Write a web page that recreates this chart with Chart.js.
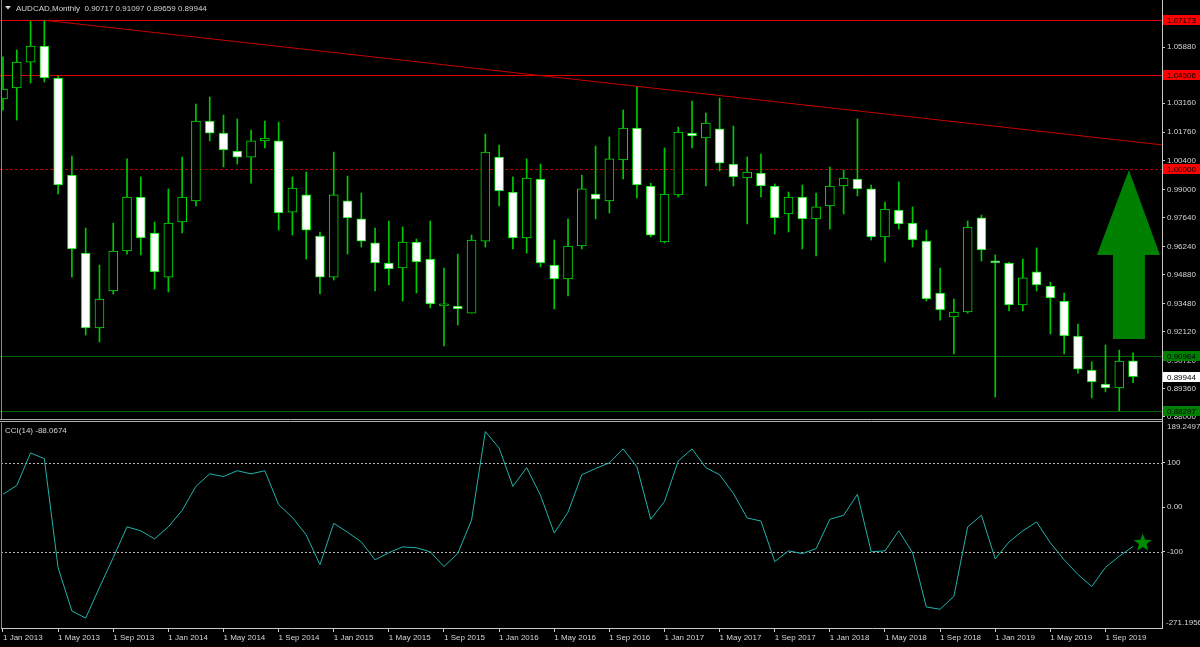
<!DOCTYPE html>
<html>
<head>
<meta charset="utf-8">
<script src="https://cdn.jsdelivr.net/npm/chart.js@4.4.1/dist/chart.umd.min.js"></script>
<style>
  html, body { margin: 0; padding: 0; background: #000; }
  #wrap { position: relative; width: 1200px; height: 647px; overflow: hidden; background: #000; }
  #wrap canvas { position: absolute; left: 0; }
  #priceChart { top: 0; }
  #cciChart { top: 412px; }
</style>
</head>
<body>
<div id="wrap">
  <canvas id="priceChart" width="1200" height="421"></canvas>
  <canvas id="cciChart" width="1200" height="235"></canvas>
</div>
<script>
// AUDCAD monthly, Jan 2013 .. Nov 2019 (index 0 = Jan 2013)
const open = [1.0337, 1.0390, 1.0515, 1.0593, 1.0438, 0.9969, 0.9592, 0.9230, 0.9409, 0.9602, 0.9863, 0.9689,
  0.9476, 0.9742, 0.9844, 1.0230, 1.0172, 1.0085, 1.0056, 1.0134, 1.0134, 0.9790, 0.9873, 0.9674,
  0.9476, 0.9844, 0.9757, 0.9641, 0.9544, 0.9520, 0.9645, 0.9563, 0.9337, 0.9336, 0.9302, 0.9650,
  1.0056, 0.9887, 0.9665, 0.9950, 0.9534, 0.9467, 0.9626, 0.9877, 0.9844, 1.0042, 1.0196, 0.9916,
  0.9646, 0.9873, 1.0172, 1.0148, 1.0192, 1.0022, 0.9955, 0.9979, 0.9916, 0.9781, 0.9863, 0.9757,
  0.9820, 0.9916, 0.9950, 0.9902, 0.9670, 0.9800, 0.9737, 0.9650, 0.9399, 0.9283, 0.9307, 0.9762,
  0.9554, 0.9544, 0.9341, 0.9501, 0.9433, 0.9360, 0.9191, 0.9027, 0.8959, 0.8940, 0.90717];
const high = [1.0540, 1.0574, 1.0712, 1.07173, 1.0448, 1.0061, 0.9713, 0.9534, 0.9737, 1.0047, 0.9960, 0.9742,
  0.9902, 1.0056, 1.0312, 1.0346, 1.0259, 1.0240, 1.0187, 1.0230, 1.0225, 0.9960, 0.9984, 0.9694,
  1.0080, 0.9964, 0.9882, 0.9713, 0.9747, 0.9718, 0.9660, 0.9747, 0.9520, 0.9587, 0.9679, 1.0167,
  1.0114, 0.9960, 1.0047, 1.0022, 0.9655, 0.9757, 0.9969, 1.0109, 1.0153, 1.0283, 1.0395, 0.9930,
  1.0100, 1.0201, 1.0327, 1.0269, 1.0341, 1.0206, 1.0056, 1.0071, 0.9926, 0.9887, 0.9921, 0.9882,
  1.0008, 0.9993, 1.0240, 0.9921, 0.9839, 0.9936, 0.9815, 0.9703, 0.9520, 0.9370, 0.9747, 0.9776,
  0.9583, 0.9549, 0.9563, 0.9617, 0.9452, 0.9399, 0.9249, 0.9066, 0.9148, 0.9123, 0.91097];
const low = [1.0283, 1.0235, 1.0414, 1.0419, 0.9878, 0.9476, 0.9196, 0.9162, 0.9394, 0.9587, 0.9583, 0.9418,
  0.9404, 0.9689, 0.9820, 1.0134, 1.0008, 1.0022, 0.9930, 1.0100, 0.9703, 0.9679, 0.9563, 0.9394,
  0.9462, 0.9587, 0.9621, 0.9409, 0.9438, 0.9360, 0.9399, 0.9327, 0.9143, 0.9244, 0.9302, 0.9621,
  0.9820, 0.9612, 0.9592, 0.9525, 0.9322, 0.9385, 0.9612, 0.9757, 0.9786, 0.9950, 0.9858, 0.9670,
  0.9641, 0.9863, 1.0100, 0.9916, 0.9989, 0.9916, 0.9733, 0.9863, 0.9684, 0.9694, 0.9612, 0.9578,
  0.9708, 0.9781, 0.9868, 0.9655, 0.9549, 0.9708, 0.9621, 0.9360, 0.9268, 0.9104, 0.9302, 0.9554,
  0.8896, 0.9312, 0.9312, 0.9409, 0.9201, 0.9104, 0.9012, 0.8892, 0.8921, 0.88297, 0.89659];
const close = [1.0385, 1.0515, 1.0593, 1.0438, 0.9921, 0.9612, 0.9230, 0.9370, 0.9602, 0.9863, 0.9665, 0.9501,
  0.9737, 0.9863, 1.0230, 1.0172, 1.0090, 1.0056, 1.0134, 1.0148, 0.9786, 0.9906, 0.9703, 0.9476,
  0.9873, 0.9762, 0.9650, 0.9544, 0.9515, 0.9645, 0.9549, 0.9346, 0.9337, 0.9322, 0.9655, 1.0080,
  0.9892, 0.9665, 0.9955, 0.9544, 0.9467, 0.9626, 0.9902, 0.9853, 1.0047, 1.0196, 0.9921, 0.9679,
  0.9877, 1.0177, 1.0158, 1.0220, 1.0027, 0.9960, 0.9984, 0.9916, 0.9762, 0.9863, 0.9757, 0.9815,
  0.9916, 0.9955, 0.9902, 0.9670, 0.9805, 0.9733, 0.9655, 0.9370, 0.9317, 0.9307, 0.9718, 0.9607,
  0.9544, 0.9341, 0.9472, 0.9438, 0.9375, 0.9191, 0.9031, 0.8969, 0.8940, 0.9070, 0.89944];

// CCI(14)
const cci = [29, 49, 122, 109, -136, -233, -249, -180, -113, -44, -53, -71,
  -44, -7, 47, 75, 69, 82, 75, 82, 6, -23, -62, -129,
  -36, -56, -78, -118, -102, -89, -91, -100, -133, -104, -29, 170,
  133, 47, 89, 27, -58, -11, 73, 87, 100, 131, 91, -27,
  13, 104, 131, 89, 73, 31, -24, -31, -122, -98, -104, -93,
  -27, -18, 29, -100, -98, -53, -102, -224, -229, -200, -44, -18,
  -116, -78, -53, -33, -80, -118, -151, -178, -135, -110, -88.0674];

// axis ticks
const tickIdx = [0, 4, 8, 12, 16, 20, 24, 28, 32, 36, 40, 44, 48, 52, 56, 60, 64, 68, 72, 76, 80];
const tickLabels = ['1 Jan 2013', '1 May 2013', '1 Sep 2013', '1 Jan 2014', '1 May 2014', '1 Sep 2014',
  '1 Jan 2015', '1 May 2015', '1 Sep 2015', '1 Jan 2016', '1 May 2016', '1 Sep 2016',
  '1 Jan 2017', '1 May 2017', '1 Sep 2017', '1 Jan 2018', '1 May 2018', '1 Sep 2018',
  '1 Jan 2019', '1 May 2019', '1 Sep 2019'];
const priceTicks = [1.0588, 1.0316, 1.0176, 1.0040, 0.9900, 0.9764, 0.9624, 0.9488, 0.9348, 0.9212, 0.9072, 0.8936, 0.8800];
const cciTicks = [100, 0, -100];
const cciMax = 189.2497;
const cciMin = -271.1956;

// drawn objects
const redLevels = [1.07173, 1.04506];
const roundLevel = 1.00000;
const greenLevels = [0.90964, 0.88297];
const lastPrice = 0.89944;
const trendIdx = [3, 84.1];
const trendPrice = [1.07173, 1.0115];
const arrowIdx = 81.7;
const arrowPrice = [0.9993, 0.9583, 0.9177]; // tip, neck, foot
const starPos = [82.7, -80];

const FONT = '"Liberation Sans", Arial, sans-serif';
const TXT = '#d4d4d4';
const AXIS = '#c8c8c8';
const xMin = -0.145, xMax = 84.1;

Chart.defaults.font.family = FONT;
Chart.defaults.font.size = 8;
Chart.defaults.color = TXT;

const idx = open.map((_, i) => i);
const bodyData = idx.map(i => ({ x: i, y: [open[i], close[i]] }));
const wickData = idx.map(i => ({ x: i, y: [low[i], high[i]] }));
const cciData = idx.map(i => ({ x: i, y: cci[i] }));
const trendData = trendIdx.map((v, i) => ({ x: v, y: trendPrice[i] }));

function fixRight(s) { s.width = 38; s.paddingTop = 0; s.paddingBottom = 0; }

const priceDecor = {
  id: 'priceDecor',
  beforeDatasetsDraw(chart) {
    const { ctx, chartArea: a, scales: { y } } = chart;
    ctx.save();
    ctx.beginPath();
    ctx.rect(0, a.top, a.right, a.bottom - a.top);
    ctx.clip();
    ctx.lineWidth = 1;
    const hl = (p, color, dash) => {
      const py = Math.round(y.getPixelForValue(p)) + 0.5;
      ctx.strokeStyle = color;
      ctx.setLineDash(dash);
      ctx.beginPath();
      ctx.moveTo(0, py);
      ctx.lineTo(a.right, py);
      ctx.stroke();
    };
    redLevels.forEach(p => hl(p, '#e00000', []));
    hl(roundLevel, '#b40000', [3, 2]);
    greenLevels.forEach(p => hl(p, '#006400', []));
    ctx.restore();
  },
  afterDatasetsDraw(chart) {
    const { ctx, scales: { x, y } } = chart;
    const cx = x.getPixelForValue(arrowIdx);
    const tip = y.getPixelForValue(arrowPrice[0]);
    const neck = y.getPixelForValue(arrowPrice[1]);
    const foot = y.getPixelForValue(arrowPrice[2]);
    ctx.save();
    ctx.fillStyle = '#008000';
    ctx.beginPath();
    ctx.moveTo(cx, tip);
    ctx.lineTo(cx + 31, neck);
    ctx.lineTo(cx + 16, neck);
    ctx.lineTo(cx + 16, foot);
    ctx.lineTo(cx - 16, foot);
    ctx.lineTo(cx - 16, neck);
    ctx.lineTo(cx - 32, neck);
    ctx.closePath();
    ctx.fill();
    ctx.restore();
  },
  afterDraw(chart) {
    const { ctx, chartArea: a, scales: { y } } = chart;
    ctx.save();
    // left frame
    ctx.strokeStyle = '#8a8a8a';
    ctx.lineWidth = 1;
    ctx.beginPath();
    ctx.moveTo(1.5, 0);
    ctx.lineTo(1.5, a.bottom);
    ctx.stroke();
    // title
    ctx.fillStyle = TXT;
    ctx.beginPath();
    ctx.moveTo(5, 6); ctx.lineTo(11, 6); ctx.lineTo(8, 9.5); ctx.closePath();
    ctx.fill();
    ctx.font = '8px ' + FONT;
    ctx.textBaseline = 'middle';
    ctx.textAlign = 'left';
    ctx.fillText('AUDCAD,Monthly  0.90717 0.91097 0.89659 0.89944', 16, 8.5);
    // price tags on the axis
    const tags = [
      ...redLevels.map(p => [p, '#ff0000', '#000']),
      [roundLevel, '#ff0000', '#000'],
      ...greenLevels.map(p => [p, '#008000', '#000']),
      [lastPrice, '#ffffff', '#000']
    ];
    tags.forEach(([p, bg, fg]) => {
      const py = Math.round(y.getPixelForValue(p));
      ctx.fillStyle = bg;
      ctx.fillRect(a.right + 1, py - 5, 37, 10);
      ctx.fillStyle = fg;
      ctx.fillText(p.toFixed(5), a.right + 5, py + 0.5);
    });
    ctx.restore();
  }
};

new Chart(document.getElementById('priceChart'), {
  type: 'bar',
  data: {
    datasets: [
      { type: 'line', data: trendData, borderColor: '#c80000', borderWidth: 1, pointRadius: 0, order: 0 },
      {
        data: bodyData,
        backgroundColor: c => close[c.dataIndex] < open[c.dataIndex] ? '#ffffff' : '#000000',
        borderColor: '#00e000', borderWidth: 1, borderSkipped: false,
        barThickness: 9, minBarLength: 2, grouped: false, order: 1
      },
      { data: wickData, backgroundColor: '#00c800', borderWidth: 0, barThickness: 1, grouped: false, order: 2 }
    ]
  },
  options: {
    responsive: false,
    animation: false,
    layout: { padding: { left: 1, right: 0, top: 0, bottom: 2 } },
    plugins: { legend: { display: false }, tooltip: { enabled: false } },
    scales: {
      x: { type: 'linear', display: false, min: xMin, max: xMax, offset: false, bounds: 'data' },
      y: {
        position: 'right', min: 0.8790, max: 1.08152, bounds: 'data',
        afterFit: fixRight,
        afterBuildTicks: s => { s.ticks = priceTicks.map(v => ({ value: v })); },
        ticks: { callback: v => v.toFixed(5), color: TXT, padding: 2, autoSkip: false },
        grid: { drawOnChartArea: false, drawTicks: true, tickLength: 3, color: AXIS },
        border: { display: true, color: AXIS }
      }
    }
  },
  plugins: [priceDecor]
});

const cciDecor = {
  id: 'cciDecor',
  beforeDatasetsDraw(chart) {
    const { ctx, chartArea: a, scales: { y } } = chart;
    ctx.save();
    ctx.strokeStyle = '#b4b4b4';
    ctx.lineWidth = 1;
    ctx.setLineDash([2, 2]);
    [100, -100].forEach(v => {
      const py = Math.round(y.getPixelForValue(v)) + 0.5;
      ctx.beginPath();
      ctx.moveTo(a.left, py);
      ctx.lineTo(a.right, py);
      ctx.stroke();
    });
    ctx.restore();
  },
  afterDraw(chart) {
    const { ctx, chartArea: a, scales: { x, y } } = chart;
    ctx.save();
    // panel separator and frame
    ctx.lineWidth = 1;
    ctx.strokeStyle = '#b0b0b0';
    [7.5, 9.5].forEach(py => {
      ctx.beginPath();
      ctx.moveTo(0, py);
      ctx.lineTo(a.right, py);
      ctx.stroke();
    });
    ctx.strokeStyle = AXIS;
    ctx.beginPath();
    ctx.moveTo(a.right + 0.5, 0);
    ctx.lineTo(a.right + 0.5, a.top);
    ctx.stroke();
    ctx.strokeStyle = '#8a8a8a';
    ctx.beginPath();
    ctx.moveTo(1.5, a.top);
    ctx.lineTo(1.5, a.bottom);
    ctx.stroke();
    // labels
    ctx.font = '8px ' + FONT;
    ctx.fillStyle = TXT;
    ctx.textBaseline = 'middle';
    ctx.textAlign = 'left';
    ctx.fillText('CCI(14) -88.0674', 5, 18.5);
    ctx.fillText(cciMax.toFixed(4), a.right + 5, a.top + 4);
    ctx.fillText(cciMin.toFixed(4), a.right + 4, a.bottom - 5);
    // star
    const sx = x.getPixelForValue(starPos[0]);
    const sy = y.getPixelForValue(starPos[1]);
    ctx.fillStyle = '#008a00';
    ctx.beginPath();
    for (let k = 0; k < 10; k++) {
      const r = k % 2 === 0 ? 9.5 : 4;
      const ang = -Math.PI / 2 + k * Math.PI / 5;
      const px = sx + r * Math.cos(ang), py = sy + r * Math.sin(ang);
      if (k === 0) ctx.moveTo(px, py); else ctx.lineTo(px, py);
    }
    ctx.closePath();
    ctx.fill();
    ctx.restore();
  }
};

new Chart(document.getElementById('cciChart'), {
  type: 'line',
  data: {
    datasets: [{ data: cciData, borderColor: '#20b2aa', borderWidth: 1, pointRadius: 0, tension: 0 }]
  },
  options: {
    responsive: false,
    animation: false,
    layout: { padding: { left: 1, right: 0, top: 11, bottom: 0 } },
    plugins: { legend: { display: false }, tooltip: { enabled: false } },
    scales: {
      x: {
        type: 'linear', min: xMin, max: xMax, offset: false, bounds: 'data',
        afterFit: s => { s.height = 19; s.paddingLeft = 0; s.paddingRight = 0; },
        afterBuildTicks: s => { s.ticks = tickIdx.map(v => ({ value: v })); },
        ticks: { callback: (v, i) => tickLabels[i], align: 'start', maxRotation: 0, autoSkip: false, padding: 1, color: TXT },
        grid: { drawOnChartArea: false, drawTicks: true, tickLength: 4, color: AXIS },
        border: { display: true, color: AXIS }
      },
      y: {
        position: 'right', min: cciMin, max: cciMax, bounds: 'data',
        afterFit: fixRight,
        afterBuildTicks: s => { s.ticks = cciTicks.map(v => ({ value: v })); },
        ticks: { callback: v => v === 0 ? '0.00' : String(v), color: TXT, padding: 2, autoSkip: false },
        grid: { drawOnChartArea: false, drawTicks: true, tickLength: 3, color: AXIS },
        border: { display: true, color: AXIS }
      }
    }
  },
  plugins: [cciDecor]
});
</script>
</body>
</html>
